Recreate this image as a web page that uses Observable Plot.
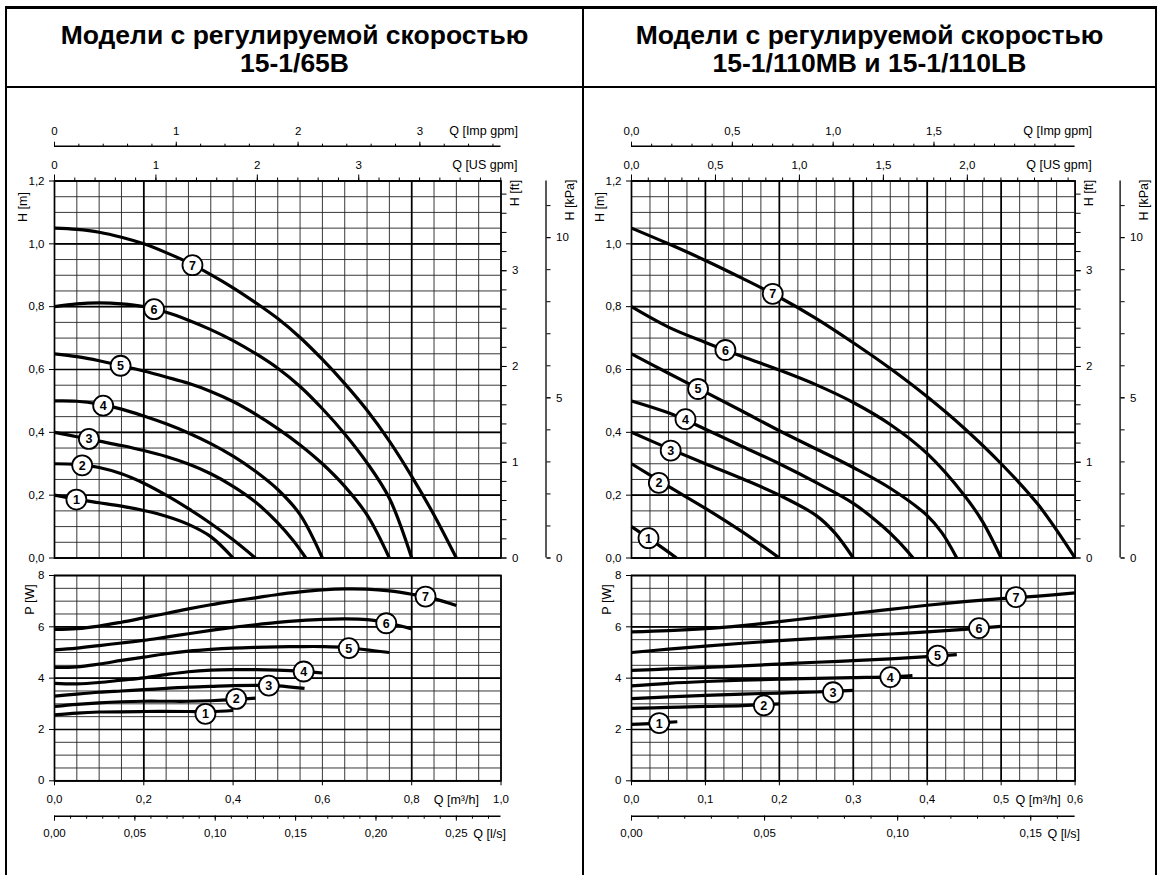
<!DOCTYPE html>
<html>
<head>
<meta charset="utf-8">
<script src="https://cdn.jsdelivr.net/npm/d3@7"></script>
<script src="https://cdn.jsdelivr.net/npm/@observablehq/plot@0.6"></script>
<style>
  body { margin: 0; background: #fff; font-family: "Liberation Sans", Arial, sans-serif; }
  #page { position: relative; width: 1164px; height: 875px; overflow: hidden; background: #fff; }
  .bar { position: absolute; background: #000; }
  .title { position: absolute; top: 21px; text-align: center; font: bold 26.5px/28px "Liberation Sans", Arial, sans-serif; color: #000; }
  .panel { position: absolute; top: 0; width: 582px; height: 875px; }
  .panel svg { position: absolute; left: 0; top: 0; overflow: visible; font-family: "Liberation Sans", Arial, sans-serif !important; font-size: 11.5px !important; background: transparent !important; }
</style>
</head>
<body>
<div id="page"></div>
<script>
// ---------- unit conversions ----------
const IMP_PER_M3H = 1000 / 4.54609 / 60;
const US_PER_M3H = 1000 / 3.785411784 / 60;
const LS_PER_M3H = 1 / 3.6;
const FT_PER_M = 3.28084;
const KPA_PER_M = 9.80665;

// ---------- titles ----------
const leftTitle = ["Модели с регулируемой скоростью", "15-1/65B"];
const rightTitle = ["Модели с регулируемой скоростью", "15-1/110MB и 15-1/110LB"];

// ---------- left panel (15-1/65B): head curves [Q m3/h, H m] ----------
const leftH1 = [[0,0.2],[0.05,0.187],[0.1,0.176],[0.15,0.165],[0.2,0.151],[0.25,0.133],[0.3,0.107],[0.35,0.068],[0.4,0]];
const leftH2 = [[0,0.3],[0.05,0.298],[0.1,0.288],[0.15,0.268],[0.2,0.238],[0.25,0.2],[0.3,0.157],[0.35,0.11],[0.4,0.058],[0.45,0]];
const leftH3 = [[0,0.4],[0.05,0.386],[0.1,0.372],[0.15,0.358],[0.2,0.342],[0.25,0.323],[0.3,0.299],[0.35,0.268],[0.4,0.228],[0.45,0.178],[0.5,0.112],[0.535,0.055],[0.563,0]];
const leftH4 = [[0,0.5],[0.05,0.499],[0.1,0.49],[0.15,0.474],[0.2,0.452],[0.25,0.427],[0.3,0.398],[0.35,0.364],[0.4,0.324],[0.45,0.276],[0.5,0.218],[0.55,0.138],[0.6,0]];
const leftH5 = [[0,0.65],[0.05,0.641],[0.1,0.628],[0.15,0.612],[0.2,0.595],[0.25,0.576],[0.3,0.556],[0.35,0.53],[0.4,0.498],[0.45,0.458],[0.5,0.412],[0.55,0.36],[0.6,0.3],[0.65,0.228],[0.7,0.137],[0.75,0]];
const leftH6 = [[0,0.8],[0.05,0.809],[0.1,0.812],[0.15,0.809],[0.2,0.8],[0.25,0.782],[0.3,0.757],[0.35,0.727],[0.4,0.692],[0.45,0.651],[0.5,0.604],[0.55,0.546],[0.6,0.475],[0.65,0.395],[0.7,0.303],[0.75,0.19],[0.8,0]];
const leftH7 = [[0,1.05],[0.05,1.046],[0.1,1.037],[0.15,1.021],[0.2,1.0],[0.25,0.972],[0.3,0.94],[0.35,0.902],[0.4,0.86],[0.45,0.813],[0.5,0.762],[0.55,0.702],[0.6,0.632],[0.65,0.555],[0.7,0.47],[0.75,0.372],[0.8,0.26],[0.85,0.137],[0.9,0]];
const leftHeadLabels = [[0.049,0.186,1],[0.062,0.295,2],[0.077,0.379,3],[0.109,0.485,4],[0.148,0.612,5],[0.223,0.792,6],[0.309,0.932,7]];

// left panel power curves [Q m3/h, P W]
const leftP1 = [[0,2.57],[0.05,2.64],[0.1,2.68],[0.2,2.7],[0.3,2.7],[0.35,2.7],[0.4,2.74]];
const leftP2 = [[0,2.9],[0.05,2.98],[0.1,3.04],[0.15,3.08],[0.2,3.1],[0.25,3.1],[0.3,3.1],[0.35,3.12],[0.4,3.16],[0.45,3.22]];
const leftP3 = [[0,3.3],[0.05,3.38],[0.1,3.45],[0.15,3.5],[0.2,3.55],[0.25,3.6],[0.3,3.65],[0.35,3.68],[0.4,3.71],[0.45,3.72],[0.5,3.7],[0.56,3.6]];
const leftP4 = [[0,3.8],[0.05,3.78],[0.1,3.83],[0.15,3.92],[0.2,4.01],[0.25,4.14],[0.3,4.25],[0.35,4.31],[0.4,4.33],[0.45,4.33],[0.5,4.31],[0.55,4.27],[0.6,4.2]];
const leftP5 = [[0,4.42],[0.05,4.44],[0.1,4.55],[0.15,4.69],[0.2,4.82],[0.25,4.95],[0.3,5.05],[0.35,5.12],[0.4,5.17],[0.45,5.2],[0.5,5.22],[0.55,5.23],[0.6,5.23],[0.65,5.2],[0.7,5.1],[0.75,5.0]];
const leftP6 = [[0,5.1],[0.05,5.17],[0.1,5.27],[0.15,5.37],[0.2,5.47],[0.25,5.6],[0.3,5.73],[0.35,5.86],[0.4,5.98],[0.45,6.08],[0.5,6.17],[0.55,6.24],[0.6,6.29],[0.65,6.31],[0.7,6.28],[0.75,6.14],[0.8,5.92]];
const leftP7 = [[0,5.9],[0.05,5.93],[0.1,6.03],[0.15,6.18],[0.2,6.35],[0.25,6.52],[0.3,6.7],[0.35,6.86],[0.4,7.0],[0.45,7.13],[0.5,7.26],[0.55,7.36],[0.6,7.44],[0.65,7.48],[0.7,7.47],[0.75,7.4],[0.8,7.27],[0.85,7.1],[0.9,6.83]];
const leftPowerLabels = [[0.338,2.61,1],[0.407,3.19,2],[0.48,3.71,3],[0.558,4.26,4],[0.659,5.17,5],[0.743,6.14,6],[0.831,7.18,7]];

// ---------- right panel (15-1/110MB, 15-1/110LB) ----------
const rightH1 = [[0,0.1],[0.03,0.052],[0.061,0]];
const rightH2 = [[0,0.3],[0.05,0.228],[0.1,0.158],[0.15,0.083],[0.2,0]];
const rightH3 = [[0,0.4],[0.05,0.349],[0.1,0.3],[0.15,0.252],[0.2,0.2],[0.25,0.135],[0.275,0.08],[0.3,0]];
const rightH4 = [[0,0.5],[0.05,0.462],[0.1,0.41],[0.15,0.355],[0.2,0.3],[0.25,0.24],[0.3,0.174],[0.34,0.1],[0.36,0.055],[0.381,0]];
const rightH5 = [[0,0.65],[0.05,0.588],[0.1,0.528],[0.15,0.467],[0.2,0.405],[0.25,0.347],[0.3,0.288],[0.35,0.222],[0.4,0.135],[0.42,0.08],[0.44,0]];
const rightH6 = [[0,0.8],[0.05,0.735],[0.1,0.686],[0.15,0.641],[0.2,0.598],[0.25,0.551],[0.3,0.495],[0.35,0.425],[0.4,0.332],[0.45,0.2],[0.475,0.115],[0.5,0]];
const rightH7 = [[0,1.05],[0.05,1.0],[0.1,0.947],[0.15,0.89],[0.2,0.83],[0.25,0.762],[0.3,0.685],[0.35,0.603],[0.4,0.513],[0.45,0.413],[0.5,0.3],[0.55,0.17],[0.6,0]];
const rightHeadLabels = [[0.023,0.063,1],[0.037,0.239,2],[0.053,0.342,3],[0.073,0.442,4],[0.09,0.538,5],[0.127,0.662,6],[0.191,0.841,7]];

const rightP1 = [[0,2.2],[0.03,2.24],[0.062,2.3]];
const rightP2 = [[0,2.82],[0.05,2.86],[0.1,2.9],[0.15,2.93],[0.2,3.0]];
const rightP3 = [[0,3.2],[0.05,3.27],[0.1,3.33],[0.15,3.38],[0.2,3.42],[0.25,3.46],[0.3,3.52]];
const rightP4 = [[0,3.7],[0.05,3.8],[0.1,3.87],[0.15,3.92],[0.2,3.96],[0.25,3.99],[0.3,4.02],[0.35,4.05],[0.38,4.1]];
const rightP5 = [[0,4.3],[0.05,4.36],[0.1,4.42],[0.15,4.48],[0.2,4.55],[0.25,4.62],[0.3,4.68],[0.35,4.75],[0.4,4.84],[0.44,4.92]];
const rightP6 = [[0,5.0],[0.05,5.13],[0.1,5.25],[0.15,5.36],[0.2,5.46],[0.25,5.55],[0.3,5.64],[0.35,5.72],[0.4,5.8],[0.45,5.9],[0.5,6.02]];
const rightP7 = [[0,5.8],[0.05,5.85],[0.1,5.93],[0.15,6.05],[0.2,6.2],[0.25,6.37],[0.3,6.52],[0.35,6.68],[0.4,6.84],[0.45,6.98],[0.5,7.1],[0.55,7.2],[0.6,7.32]];
const rightPowerLabels = [[0.0375,2.25,1],[0.179,2.94,2],[0.2725,3.45,3],[0.35,4.04,4],[0.414,4.88,5],[0.47,5.95,6],[0.52,7.16,7]];

// ---------- tick labels ----------
const headTickLabels = [0, 0.2, 0.4, 0.6, 0.8, 1.0, 1.2];
const powerTickLabels = [0, 2, 4, 6, 8];
const ftTickLabels = [0, 1, 2, 3];
const kpaTickLabels = [0, 5, 10];
const leftImpLabels = [0, 1, 2, 3];
const leftUsLabels = [0, 1, 2, 3];
const leftFlowLabels = [0, 0.2, 0.4, 0.6, 0.8, 1.0];
const leftLsLabels = [0, 0.05, 0.1, 0.15, 0.2, 0.25];
const rightImpLabels = [0, 0.5, 1.0, 1.5];
const rightUsLabels = [0, 0.5, 1.0, 1.5, 2.0];
const rightFlowLabels = [0, 0.1, 0.2, 0.3, 0.4, 0.5, 0.6];
const rightLsLabels = [0, 0.05, 0.1, 0.15];

// ---------- layout (page pixels) ----------
const G = { W: 582, H: 875, hTop: 180.5, hBot: 557.5, pTop: 575, pBot: 780.3, impY: 145.7, lsY: 815.7, kpaGap: 45 };
const UNIT_FS = 12.5;

const fmt = (d, n) => d.toFixed(n).replace(".", ",");
const stepTicks = (max, step) => d3.range(0, Math.floor(max / step + 1e-3) + 1).map(i => +(i * step).toFixed(6));

const page = document.getElementById("page");

function buildPanel(cfg) {
  const div = document.createElement("div");
  div.className = "panel";
  div.style.left = cfg.left + "px";
  page.appendChild(div);
  const base = { width: G.W, height: G.H, marginLeft: cfg.x0, marginRight: G.W - cfg.x1 };
  const add = (opts) => { const svg = Plot.plot({ ...base, ...opts }); div.appendChild(svg); return svg; };
  const X = d => d[0], Y = d => d[1];
  const curveMarks = (curves) => curves.map(c => Plot.line(c, { x: X, y: Y, curve: "catmull-rom", stroke: "#000", strokeWidth: 3.2, strokeLinecap: "butt" }));
  const labelMarks = (labels) => [
    Plot.dot(labels, { x: X, y: Y, r: 10, fill: "#fff", stroke: "#000", strokeWidth: 1.8 }),
    Plot.text(labels, { x: X, y: Y, text: d => String(d[2]), fontWeight: "bold", fontSize: 12.5, dy: 0.5 })
  ];
  const rotated = { rotate: -90, textAnchor: "middle", lineAnchor: "middle", fontSize: UNIT_FS };
  const qMinor = stepTicks(cfg.qMax, cfg.qMinorStep);
  const minor = { stroke: "#222", strokeWidth: 0.9 };
  const major = { stroke: "#000", strokeWidth: 1.7 };

  // head chart
  add({
    marginTop: G.hTop, marginBottom: G.H - G.hBot,
    x: { domain: [0, cfg.qMax], axis: null },
    y: { domain: [0, 1.2], axis: null },
    marks: [
      Plot.ruleX(qMinor, minor),
      Plot.ruleY(stepTicks(1.2, 0.05), minor),
      Plot.ruleX(cfg.qMajor, major),
      Plot.ruleY(headTickLabels, major),
      Plot.frame({ stroke: "#000", strokeWidth: 1.7 }),
      ...curveMarks(cfg.head),
      ...labelMarks(cfg.headLabels),
      Plot.axisY({ anchor: "left", ticks: headTickLabels, tickSize: 5, tickPadding: 5, tickFormat: d => fmt(d, 1), label: null }),
      Plot.text(["H [m]"], { frameAnchor: "top-left", dx: -32, dy: 26, ...rotated })
    ]
  });
  // US gpm axis (on top edge of head chart)
  add({
    marginTop: G.hTop, marginBottom: G.H - G.hBot,
    x: { domain: [0, cfg.qMax * US_PER_M3H], axis: null },
    marks: [
      Plot.axisX({ anchor: "top", ticks: stepTicks(cfg.qMax * US_PER_M3H, cfg.gpmStep), tickSize: 4, fill: "none", label: null }),
      Plot.axisX({ anchor: "top", ticks: cfg.usLabels, tickSize: 7, tickPadding: 5, tickFormat: d => fmt(d, cfg.gpmDigits), label: null }),
      Plot.text(["Q [US gpm]"], { frameAnchor: "top-right", textAnchor: "end", lineAnchor: "bottom", dx: 16.5, dy: -12.3, fontSize: UNIT_FS })
    ]
  });
  // Imp gpm axis
  add({
    marginTop: G.impY, marginBottom: G.H - G.hBot,
    x: { domain: [0, cfg.qMax * IMP_PER_M3H], axis: null },
    y: { domain: [0, 1], axis: null },
    marks: [
      Plot.ruleY([1], { stroke: "#000", strokeWidth: 1.5 }),
      Plot.axisX({ anchor: "top", ticks: stepTicks(cfg.qMax * IMP_PER_M3H, cfg.gpmStep), tickSize: 3, fill: "none", label: null }),
      Plot.axisX({ anchor: "top", ticks: cfg.impLabels, tickSize: 5, tickPadding: 6.4, tickFormat: d => fmt(d, cfg.gpmDigits), label: null }),
      Plot.text(["Q [Imp gpm]"], { frameAnchor: "top-right", textAnchor: "end", lineAnchor: "bottom", dx: 17, dy: -11.4, fontSize: UNIT_FS })
    ]
  });
  // ft axis (right edge of head chart)
  add({
    marginTop: G.hTop, marginBottom: G.H - G.hBot,
    y: { domain: [0, 1.2 * FT_PER_M], axis: null },
    marks: [
      Plot.axisY({ anchor: "right", ticks: stepTicks(1.2 * FT_PER_M, 0.2), tickSize: 5, fill: "none", label: null }),
      Plot.axisY({ anchor: "right", ticks: ftTickLabels, tickSize: 5, tickPadding: 6, tickFormat: d => String(d), label: null }),
      Plot.text(["H [ft]"], { frameAnchor: "top-right", dx: 14, dy: 12, ...rotated })
    ]
  });
  // kPa axis
  add({
    marginTop: G.hTop, marginBottom: G.H - G.hBot, marginRight: G.W - (cfg.x1 + G.kpaGap),
    x: { domain: [0, 1], axis: null },
    y: { domain: [0, 1.2 * KPA_PER_M], axis: null },
    marks: [
      Plot.ruleX([1], { stroke: "#000", strokeWidth: 1.3 }),
      Plot.axisY({ anchor: "right", ticks: stepTicks(1.2 * KPA_PER_M, 1), tickSize: 4, fill: "none", label: null }),
      Plot.axisY({ anchor: "right", ticks: kpaTickLabels, tickSize: 4, tickPadding: 6, tickFormat: d => String(d), label: null }),
      Plot.text(["H [kPa]"], { frameAnchor: "top-right", dx: 24, dy: 19, ...rotated })
    ]
  });
  // power chart
  add({
    marginTop: G.pTop, marginBottom: G.H - G.pBot,
    x: { domain: [0, cfg.qMax], axis: null },
    y: { domain: [0, 8], axis: null },
    marks: [
      Plot.ruleX(qMinor, minor),
      Plot.ruleY(stepTicks(8, 0.5), minor),
      Plot.ruleX(cfg.qMajor, major),
      Plot.ruleY(powerTickLabels, major),
      Plot.frame({ stroke: "#000", strokeWidth: 1.7 }),
      ...curveMarks(cfg.power),
      ...labelMarks(cfg.powerLabels),
      Plot.axisY({ anchor: "left", ticks: powerTickLabels, tickSize: 5, tickPadding: 5, tickFormat: d => String(d), label: null }),
      Plot.axisX({ anchor: "bottom", ticks: cfg.flowLabels, tickSize: 5, tickPadding: 9, tickFormat: d => fmt(d, 1), label: null }),
      Plot.text([cfg.qUnitAt], { x: d => d, text: () => "Q [m³/h]", frameAnchor: "bottom", lineAnchor: "top", dy: 14, fontSize: UNIT_FS }),
      Plot.text(["P [W]"], { frameAnchor: "top-left", dx: -25, dy: 24, ...rotated })
    ]
  });
  // l/s axis
  add({
    marginTop: G.lsY - 20, marginBottom: G.H - G.lsY,
    x: { domain: [0, cfg.qMax * LS_PER_M3H], axis: null },
    y: { domain: [0, 1], axis: null },
    marks: [
      Plot.ruleY([0], { stroke: "#000", strokeWidth: 1.5 }),
      Plot.axisX({ anchor: "bottom", ticks: stepTicks(cfg.qMax * LS_PER_M3H, 0.01), tickSize: 3, fill: "none", label: null }),
      Plot.axisX({ anchor: "bottom", ticks: cfg.lsLabels, tickSize: 5, tickPadding: 8, tickFormat: d => fmt(d, 2), label: null }),
      Plot.text(["Q [l/s]"], { frameAnchor: "bottom-right", textAnchor: "end", lineAnchor: "top", dx: 5, dy: 13, fontSize: UNIT_FS })
    ]
  });
}

buildPanel({
  left: 0, x0: 54, x1: 500.5, qMax: 1.0, qMinorStep: 0.05, qMajor: [0.2, 0.8],
  gpmStep: 0.2, gpmDigits: 0, impLabels: leftImpLabels, usLabels: leftUsLabels,
  flowLabels: leftFlowLabels, qUnitAt: 0.9, lsLabels: leftLsLabels,
  head: [leftH1, leftH2, leftH3, leftH4, leftH5, leftH6, leftH7], headLabels: leftHeadLabels,
  power: [leftP1, leftP2, leftP3, leftP4, leftP5, leftP6, leftP7], powerLabels: leftPowerLabels
});
buildPanel({
  left: 582, x0: 49, x1: 492.6, qMax: 0.6, qMinorStep: 0.025, qMajor: [0.1, 0.2, 0.3, 0.4, 0.5],
  gpmStep: 0.1, gpmDigits: 1, impLabels: rightImpLabels, usLabels: rightUsLabels,
  flowLabels: rightFlowLabels, qUnitAt: 0.55, lsLabels: rightLsLabels,
  head: [rightH1, rightH2, rightH3, rightH4, rightH5, rightH6, rightH7], headLabels: rightHeadLabels,
  power: [rightP1, rightP2, rightP3, rightP4, rightP5, rightP6, rightP7], powerLabels: rightPowerLabels
});

// titles
function addTitle(lines, left, width) {
  const t = document.createElement("div");
  t.className = "title";
  t.style.left = left + "px";
  t.style.width = width + "px";
  t.innerHTML = lines.map(s => s.replace(/&/g, "&amp;").replace(/</g, "&lt;")).join("<br>");
  page.appendChild(t);
}
addTitle(leftTitle, 7, 575);
addTitle(rightTitle, 584, 571);

// table frame
function bar(l, t, w, h) {
  const b = document.createElement("div");
  b.className = "bar";
  Object.assign(b.style, { left: l + "px", top: t + "px", width: w + "px", height: h + "px" });
  page.appendChild(b);
}
bar(5, 6, 1152, 2.5);
bar(5, 85.5, 1152, 2.2);
bar(5, 6, 2, 869);
bar(582, 6, 2.2, 869);
bar(1155, 6, 2, 869);
</script>
</body>
</html>
